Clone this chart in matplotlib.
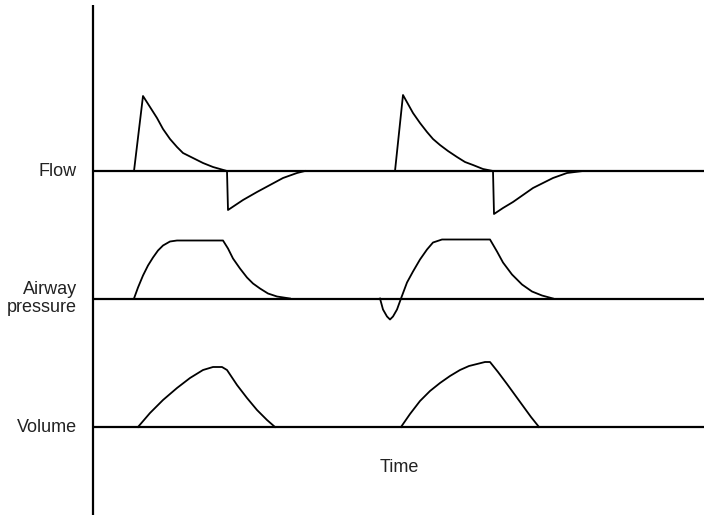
import matplotlib
matplotlib.use("Agg")
import matplotlib.pyplot as plt

plt.rcParams['font.family'] = ['Liberation Sans', 'DejaVu Sans']

# time in arbitrary units (0 = the vertical axis), amplitude above each baseline
flow_t1 = [41, 50, 57, 64, 70, 77, 84, 90, 100, 110, 120, 134,
           135, 150, 164, 177, 190, 204, 212]
flow_v1 = [0, 75, 64, 53, 42, 32, 24, 18, 13, 8, 4, 0,
           -39, -29, -21, -14, -7, -2, 0]
flow_t2 = [302, 310, 315, 320, 327, 334, 340, 347, 355, 364, 372, 380, 390, 400,
           401, 410, 420, 430, 440, 450, 460, 474, 490]
flow_v2 = [0, 76, 67, 58, 48, 39, 32, 26, 20, 14, 9, 6, 2, 0,
           -43, -37, -31, -24, -17, -12, -7, -2, 0]

pres_t1 = [41, 45, 50, 55, 60, 65, 70, 77, 84, 130, 135, 140, 147, 154, 160,
           167, 175, 184, 197]
pres_v1 = [0, 11, 23, 33, 41, 48, 53, 57, 58, 58, 50, 40, 30, 21, 15,
           10, 5, 2, 0]
pres_t2 = [287, 290, 294, 297, 300, 304, 308, 314, 320, 327, 334, 340, 349,
           397, 404, 410, 419, 429, 439, 449, 460]
pres_v2 = [0, -11, -18, -21, -18, -11, 0, 16, 27, 39, 49, 56, 59,
           59, 47, 36, 24, 14, 7, 3, 0]

vol_t1 = [45, 57, 70, 84, 97, 110, 120, 129, 134, 144, 154, 164, 174, 182]
vol_v1 = [0, 14, 27, 39, 49, 57, 60, 60, 57, 42, 29, 17, 7, 0]
vol_t2 = [308, 317, 327, 337, 347, 357, 367, 376, 384, 392, 397,
          405, 414, 422, 430, 438, 446]
vol_v2 = [0, 13, 26, 36, 44, 51, 57, 61, 63, 65, 65,
          55, 43, 32, 21, 10, 0]

labels = ["Flow", "Airway\npressure", "Volume"]
baselines = [171, 298.5, 427]   # pixel rows of each trace's zero line

fig = plt.figure(figsize=(7.04, 5.17), dpi=100)
ax = fig.add_axes([0, 0, 1, 1])
ax.set_xlim(-93, 611)
ax.set_ylim(517, 0)
ax.axis("off")

# vertical axis
ax.plot([0, 0], [5, 515], color="black", lw=1.6, solid_capstyle="butt")

traces = [((flow_t1, flow_v1), (flow_t2, flow_v2)),
          ((pres_t1, pres_v1), (pres_t2, pres_v2)),
          ((vol_t1, vol_v1), (vol_t2, vol_v2))]

for base, label, breaths in zip(baselines, labels, traces):
    ax.plot([0, 611], [base, base], color="black", lw=1.6, solid_capstyle="butt")
    for t, v in breaths:
        ax.plot(t, [base - a for a in v], color="black", lw=1.3,
                solid_joinstyle="round")
    ax.text(-16, base, label, ha="right", va="center", fontsize=13,
            color="#222222", linespacing=1.15)

ax.text(306, 468, "Time", ha="center", va="center", fontsize=13, color="#222222")

fig.savefig("out.png", dpi=100)
